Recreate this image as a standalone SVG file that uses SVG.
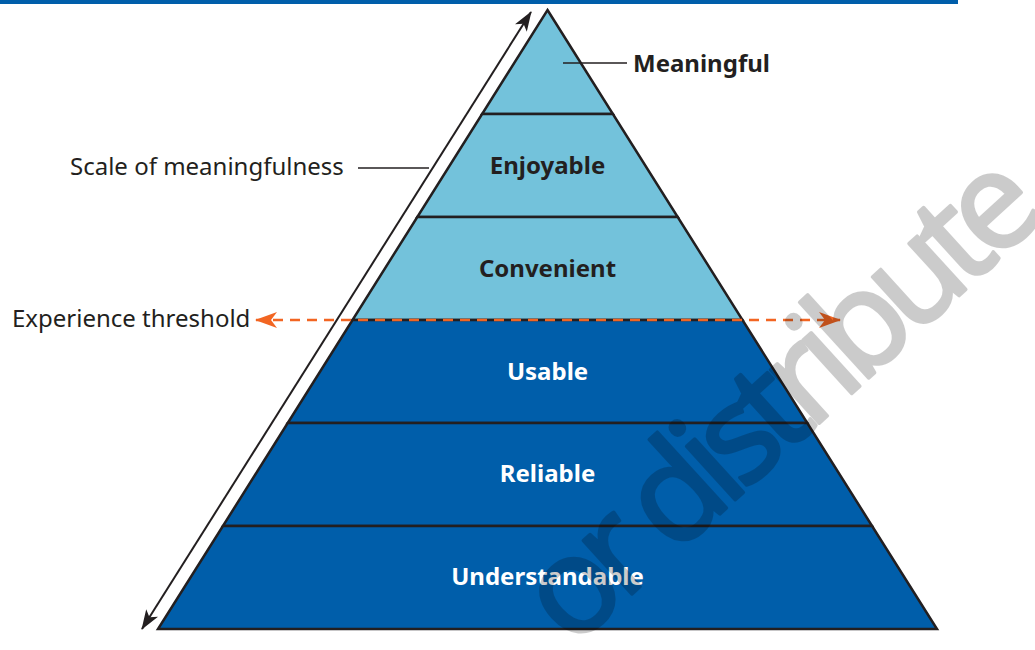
<svg xmlns="http://www.w3.org/2000/svg" width="1035" height="650" viewBox="0 0 1035 650">
  <defs>
    <style>
      .lbl { font-family: "Noto Sans", "Open Sans", sans-serif; font-size: 24px; fill: #231f20; }
      .bold { font-weight: 700; }
      .in-light { font-family: "Noto Sans", "Open Sans", sans-serif; font-size: 24px; font-weight: 700; fill: #231f20; text-anchor: middle; }
      .in-dark { font-family: "Noto Sans", "Open Sans", sans-serif; font-size: 24px; font-weight: 700; fill: #ffffff; text-anchor: middle; }
      .layer-light { fill: #73c2db; stroke: #231f20; stroke-width: 2.5; stroke-linejoin: miter; }
      .layer-dark { fill: #005eaa; stroke: #231f20; stroke-width: 2.5; stroke-linejoin: miter; }
      .leader { stroke: #231f20; stroke-width: 1.4; fill: none; }
      .mark { font-family: "Open Sans", "Noto Sans", sans-serif; font-size: 135px; letter-spacing: -11px; fill: #000000; stroke: #000000; stroke-width: 3.5; stroke-linejoin: round; }
    </style>
    <marker id="head-black" viewBox="0 0 20 14" refX="19" refY="7" markerWidth="20" markerHeight="14" markerUnits="userSpaceOnUse" orient="auto-start-reverse">
      <path d="M0,0 L20,7 L0,14 L5,7 Z" fill="#231f20"/>
    </marker>
    <marker id="head-orange" viewBox="0 0 22 16" refX="21" refY="8" markerWidth="22" markerHeight="16" markerUnits="userSpaceOnUse" orient="auto-start-reverse">
      <path d="M0,0 L22,8 L0,16 L6,8 Z" fill="#f26522"/>
    </marker>
  </defs>

  <!-- header rule -->
  <rect x="0" y="0" width="958" height="4" fill="#005eaa"/>

  <!-- pyramid layers, top to bottom -->
  <g id="layer-meaningful">
    <polygon class="layer-light" points="547.5,10 612.9,114 482.1,114"/>
  </g>
  <g id="layer-enjoyable">
    <polygon class="layer-light" points="482.1,114 612.9,114 677.7,217 417.3,217"/>
    <text class="in-light" x="547.5" y="173.5">Enjoyable</text>
  </g>
  <g id="layer-convenient">
    <polygon class="layer-light" points="417.3,217 677.7,217 742.5,320 352.5,320"/>
    <text class="in-light" x="547.5" y="276.5">Convenient</text>
  </g>
  <g id="layer-usable">
    <polygon class="layer-dark" points="352.5,320 742.5,320 807.3,423 287.7,423"/>
    <text class="in-dark" x="547.5" y="379.5">Usable</text>
  </g>
  <g id="layer-reliable">
    <polygon class="layer-dark" points="287.7,423 807.3,423 872.1,526 222.9,526"/>
    <text class="in-dark" x="547.5" y="482">Reliable</text>
  </g>
  <g id="layer-understandable">
    <polygon class="layer-dark" points="222.9,526 872.1,526 937,629 158,629"/>
    <text class="in-dark" x="547.5" y="585">Understandable</text>
  </g>

  <!-- side labels -->
  <g id="label-meaningful">
    <text class="lbl bold" x="633" y="71.5">Meaningful</text>
  </g>
  <g id="label-scale">
    <text class="lbl" x="70" y="175">Scale of meaningfulness</text>
  </g>
  <g id="label-threshold">
    <text class="lbl" x="12" y="327">Experience threshold</text>
  </g>

  <!-- connectors -->
  <g id="connectors">
    <line class="leader" x1="563" y1="63" x2="627" y2="63"/>
    <line class="leader" x1="358" y1="168" x2="429" y2="168"/>
    <line x1="142" y1="629" x2="531" y2="12" stroke="#231f20" stroke-width="2" marker-start="url(#head-black)" marker-end="url(#head-black)"/>
    <line x1="256" y1="320" x2="840" y2="320" stroke="#f26522" stroke-width="2.5" stroke-dasharray="10 7" marker-start="url(#head-orange)" marker-end="url(#head-orange)"/>
  </g>

  <!-- watermark, translucent as a whole so fill and stroke do not stack -->
  <g opacity="0.2">
    <text class="mark" transform="translate(571.7,649.2) rotate(-42.4)">or distribute</text>
  </g>
</svg>
